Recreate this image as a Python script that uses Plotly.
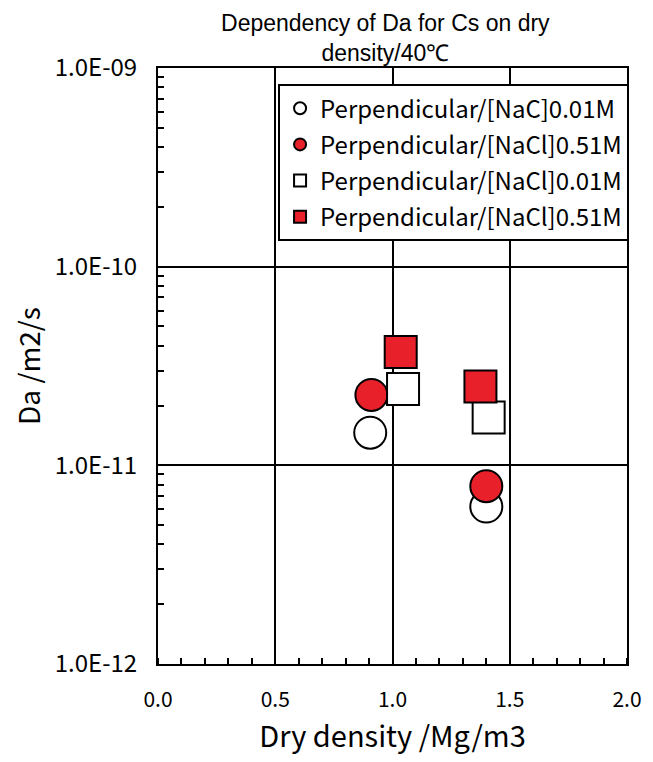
import plotly.graph_objects as go

# Data
series_names = [
    "Perpendicular/[NaC]0.01M",
    "Perpendicular/[NaCl]0.51M",
    "Perpendicular/[NaCl]0.01M",
    "Perpendicular/[NaCl]0.51M",
]
open_circle_x = [0.905, 1.40]
open_circle_y = [1.46e-11, 6.2e-12]
red_circle_x = [0.91, 1.40]
red_circle_y = [2.26e-11, 7.85e-12]
open_square_x = [1.045, 1.41]
open_square_y = [2.42e-11, 1.74e-11]
red_square_x = [1.035, 1.375]
red_square_y = [3.72e-11, 2.49e-11]

y_tickvals = [1e-12, 1e-11, 1e-10, 1e-9]
y_ticktext = ["1.0E-12", "1.0E-11", "1.0E-10", "1.0E-09"]
x_tickvals = [0.0, 0.5, 1.0, 1.5, 2.0]
x_ticktext = ["0.0", "0.5", "1.0", "1.5", "2.0"]
y_minor_mantissas = [2, 3, 4, 5, 6, 7, 8, 9]
y_minor_decades = [-12, -11, -10]
y_minor_vals = [m * 10.0 ** e for e in y_minor_decades for m in y_minor_mantissas]

RED = "#e8202a"
FONT = "Noto Sans CJK JP"
TITLE_FONT = "Liberation Sans"

# page body has an 8px margin; figure is sized so the content sits where the reference has it
W, H = 645, 754

fig = go.Figure()
specs = [
    (open_circle_x, open_circle_y, "circle", "white"),
    (red_circle_x, red_circle_y, "circle", RED),
    (open_square_x, open_square_y, "square", "white"),
    (red_square_x, red_square_y, "square", RED),
]
for i, (name, (xs, ys, sym, col)) in enumerate(zip(series_names, specs)):
    fig.add_trace(go.Scatter(
        x=xs, y=ys, mode="markers", name=name, legendgroup=f"g{i}",
        marker=dict(symbol=sym, size=32, color=col,
                    line=dict(color="black", width=2)),
    ))

fig.update_layout(
    width=W, height=H,
    margin=dict(l=150, r=26, t=60, b=98),
    paper_bgcolor="white", plot_bgcolor="white",
    font=dict(family=FONT, color="black", size=20),
    title=dict(text="Dependency of Da for Cs on dry<br>density/40℃",
               xref="container", x=0.585, xanchor="center",
               yref="container", y=0.969, yanchor="top",
               font=dict(size=23, family=TITLE_FONT)),
    showlegend=True,
    legend=dict(x=0.256, y=0.973, xanchor="left", yanchor="top",
                bgcolor="white", bordercolor="black", borderwidth=2,
                font=dict(size=24, family=FONT),
                tracegroupgap=2,
                itemsizing="constant"),
)
fig.update_xaxes(
    range=[0, 2], tickvals=x_tickvals, ticktext=x_ticktext,
    showline=True, linecolor="black", linewidth=2, mirror=True,
    showgrid=True, gridcolor="black", gridwidth=2,
    ticks="", ticklabelstandoff=16,
    tickfont=dict(size=21),
    minor=dict(dtick=0.1, ticks="inside", ticklen=6, tickwidth=2,
               tickcolor="black", showgrid=False),
    title=dict(text="Dry density /Mg/m3", font=dict(size=29), standoff=14),
    zeroline=False,
)
fig.update_yaxes(
    type="log", range=[-12, -9], tickvals=y_tickvals, ticktext=y_ticktext,
    showline=True, linecolor="black", linewidth=2, mirror=True,
    showgrid=True, gridcolor="black", gridwidth=2,
    ticks="", ticklabelstandoff=14,
    tickfont=dict(size=24),
    minor=dict(tickmode="array", tickvals=y_minor_vals,
               ticks="inside", ticklen=6, tickwidth=2,
               tickcolor="black", showgrid=False),
    title=dict(text="Da /m2/s", font=dict(size=28), standoff=12),
    zeroline=False,
)

fig.write_html("out.html")
